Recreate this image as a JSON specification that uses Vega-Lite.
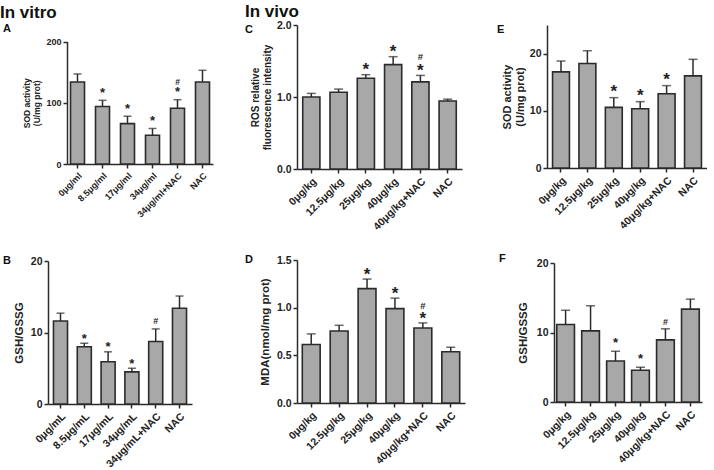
{
  "$schema": "https://vega.github.io/schema/vega-lite/v6.json",
  "padding": {"left": 0, "top": 3, "right": 0, "bottom": 0},
  "background": "white",
  "datasets": {
    "A": [
      {"g": "0μg/ml", "v": 134, "e": 147, "st": "", "h": ""},
      {"g": "8.5μg/ml", "v": 94, "e": 104, "st": "*", "h": ""},
      {"g": "17μg/ml", "v": 66, "e": 78, "st": "*", "h": ""},
      {"g": "34μg/ml", "v": 47, "e": 58, "st": "*", "h": ""},
      {"g": "34μg/ml+NAC", "v": 91, "e": 105, "st": "*", "h": "#"},
      {"g": "NAC", "v": 134, "e": 153, "st": "", "h": ""}
    ],
    "B": [
      {"g": "0μg/mL", "v": 11.6, "e": 12.7, "st": "", "h": ""},
      {"g": "8.5μg/mL", "v": 8.0, "e": 8.5, "st": "*", "h": ""},
      {"g": "17μg/mL", "v": 5.9, "e": 7.3, "st": "*", "h": ""},
      {"g": "34μg/mL", "v": 4.5, "e": 5.0, "st": "*", "h": ""},
      {"g": "34μg/mL+NAC", "v": 8.75, "e": 10.5, "st": "", "h": "#"},
      {"g": "NAC", "v": 13.4, "e": 15.1, "st": "", "h": ""}
    ],
    "C": [
      {"g": "0μg/kg", "v": 1.0, "e": 1.05, "st": "", "h": ""},
      {"g": "12.5μg/kg", "v": 1.065, "e": 1.11, "st": "", "h": ""},
      {"g": "25μg/kg", "v": 1.26, "e": 1.31, "st": "*", "h": ""},
      {"g": "40μg/kg", "v": 1.45, "e": 1.56, "st": "*", "h": ""},
      {"g": "40μg/kg+NAC", "v": 1.21, "e": 1.30, "st": "*", "h": "#"},
      {"g": "NAC", "v": 0.944, "e": 0.97, "st": "", "h": ""}
    ],
    "D": [
      {"g": "0μg/kg", "v": 0.613, "e": 0.725, "st": "", "h": ""},
      {"g": "12.5μg/kg", "v": 0.756, "e": 0.815, "st": "", "h": ""},
      {"g": "25μg/kg", "v": 1.20, "e": 1.30, "st": "*", "h": ""},
      {"g": "40μg/kg", "v": 0.99, "e": 1.10, "st": "*", "h": ""},
      {"g": "40μg/kg+NAC", "v": 0.787, "e": 0.84, "st": "*", "h": "#"},
      {"g": "NAC", "v": 0.537, "e": 0.585, "st": "", "h": ""}
    ],
    "E": [
      {"g": "0μg/kg", "v": 16.8, "e": 18.7, "st": "", "h": ""},
      {"g": "12.5μg/kg", "v": 18.26, "e": 20.5, "st": "", "h": ""},
      {"g": "25μg/kg", "v": 10.6, "e": 12.3, "st": "*", "h": ""},
      {"g": "40μg/kg", "v": 10.35, "e": 11.6, "st": "*", "h": ""},
      {"g": "40μg/kg+NAC", "v": 12.97, "e": 14.4, "st": "*", "h": ""},
      {"g": "NAC", "v": 16.1, "e": 19.0, "st": "", "h": ""}
    ],
    "F": [
      {"g": "0μg/kg", "v": 11.15, "e": 13.2, "st": "", "h": ""},
      {"g": "12.5μg/kg", "v": 10.24, "e": 13.85, "st": "", "h": ""},
      {"g": "25μg/kg", "v": 5.9, "e": 7.3, "st": "*", "h": ""},
      {"g": "40μg/kg", "v": 4.57, "e": 5.0, "st": "*", "h": ""},
      {"g": "40μg/kg+NAC", "v": 8.94, "e": 10.53, "st": "", "h": "#"},
      {"g": "NAC", "v": 13.37, "e": 14.8, "st": "", "h": ""}
    ]
  },
  "hconcat": [
    {
      "title": {"text": "In vitro", "anchor": "start", "frame": "bounds", "fontSize": 17, "fontWeight": "bold", "font": "Liberation Sans", "color": "#111", "baseline": "alphabetic", "offset": 0, "dx": -3, "dy": 11.5},
      "spacing": 36,
      "vconcat": [
        {
          "title": {"text": "A", "anchor": "start", "frame": "group", "dx": -45, "dy": 18, "offset": 0, "baseline": "alphabetic", "fontSize": 11, "fontWeight": "bold", "font": "Liberation Sans", "color": "#111"},
          "width": 165, "height": 139,
          "data": {"name": "A"},
          "encoding": {"x": {"field": "g", "type": "nominal", "sort": null, "scale": {"range": [19, 165], "paddingInner": 0.44, "paddingOuter": 0.14}, "axis": {"labelFontSize": 9}}},
          "layer": [
            {"mark": {"type": "bar", "fill": "#a8a8a8", "stroke": "#2b2b2b", "strokeWidth": 1.6},
             "encoding": {"y": {"field": "v", "type": "quantitative", "scale": {"domain": [0, 200], "nice": false, "range": [139, 16.5]}, "axis": {"offset": -19, "values": [0, 50, 100, 150, 200], "title": ["SOD activity", "(U/mg prot)"], "titleFontSize": 8.5, "labelFontSize": 9, "titlePadding": 4}}}},
            {"mark": {"type": "rule", "color": "#2b2b2b", "strokeWidth": 1.5}, "encoding": {"y": {"field": "v", "type": "quantitative"}, "y2": {"field": "e"}}},
            {"mark": {"type": "tick", "color": "#2b2b2b", "thickness": 1.5, "size": 8}, "encoding": {"y": {"field": "e", "type": "quantitative"}}},
            {"mark": {"type": "text", "baseline": "alphabetic", "dy": -3.5, "fontSize": 13, "fontWeight": "bold", "color": "#222"}, "encoding": {"y": {"field": "e", "type": "quantitative"}, "text": {"field": "st"}}},
            {"mark": {"type": "text", "baseline": "alphabetic", "dy": -15, "fontSize": 8.5, "fontWeight": "bold", "color": "#222"}, "encoding": {"y": {"field": "e", "type": "quantitative"}, "text": {"field": "h"}}}
          ]
        },
        {
          "title": {"text": "B", "anchor": "start", "frame": "group", "dx": -45, "dy": 19, "offset": 0, "baseline": "alphabetic", "fontSize": 11, "fontWeight": "bold", "font": "Liberation Sans", "color": "#111"},
          "width": 144, "height": 143,
          "data": {"name": "B"},
          "encoding": {"x": {"field": "g", "type": "nominal", "sort": null, "scale": {"paddingInner": 0.41, "paddingOuter": 0.23}, "axis": {"labelFontSize": 10.5}}},
          "layer": [
            {"mark": {"type": "bar", "fill": "#a8a8a8", "stroke": "#2b2b2b", "strokeWidth": 1.6},
             "encoding": {"y": {"field": "v", "type": "quantitative", "scale": {"domain": [0, 20], "nice": false}, "axis": {"values": [0, 5, 10, 15, 20], "title": "GSH/GSSG", "titleFontSize": 11.5, "labelFontSize": 10.5, "titlePadding": 6}}}},
            {"mark": {"type": "rule", "color": "#2b2b2b", "strokeWidth": 1.5}, "encoding": {"y": {"field": "v", "type": "quantitative"}, "y2": {"field": "e"}}},
            {"mark": {"type": "tick", "color": "#2b2b2b", "thickness": 1.5, "size": 8}, "encoding": {"y": {"field": "e", "type": "quantitative"}}},
            {"mark": {"type": "text", "baseline": "alphabetic", "dy": -0.5, "fontSize": 13, "fontWeight": "bold", "color": "#222"}, "encoding": {"y": {"field": "e", "type": "quantitative"}, "text": {"field": "st"}}},
            {"mark": {"type": "text", "baseline": "alphabetic", "dy": -4.5, "fontSize": 9, "fontWeight": "bold", "color": "#222"}, "encoding": {"y": {"field": "e", "type": "quantitative"}, "text": {"field": "h"}}}
          ]
        }
      ]
    },
    {
      "title": {"text": "In vivo", "anchor": "start", "frame": "bounds", "fontSize": 17, "fontWeight": "bold", "font": "Liberation Sans", "color": "#111", "baseline": "alphabetic", "offset": 0, "dy": 14},
      "spacing": 22,
      "vconcat": [
        {
          "title": {"text": "C", "anchor": "start", "frame": "group", "dx": -52, "dy": 24, "offset": 0, "baseline": "alphabetic", "fontSize": 11, "fontWeight": "bold", "font": "Liberation Sans", "color": "#111"},
          "width": 165, "height": 144,
          "data": {"name": "C"},
          "encoding": {"x": {"field": "g", "type": "nominal", "sort": null, "scale": {"paddingInner": 0.37, "paddingOuter": 0.21}, "axis": {"labelFontSize": 10.5}}},
          "layer": [
            {"mark": {"type": "bar", "fill": "#a8a8a8", "stroke": "#2b2b2b", "strokeWidth": 1.6},
             "encoding": {"y": {"field": "v", "type": "quantitative", "scale": {"domain": [0, 2], "nice": false}, "axis": {"values": [0, 0.5, 1, 1.5, 2], "format": ".1f", "title": ["ROS relative", "fluorescence intensity"], "titleFontSize": 10, "labelFontSize": 10.5, "titlePadding": 4}}}},
            {"mark": {"type": "rule", "color": "#2b2b2b", "strokeWidth": 1.5}, "encoding": {"y": {"field": "v", "type": "quantitative"}, "y2": {"field": "e"}}},
            {"mark": {"type": "tick", "color": "#2b2b2b", "thickness": 1.5, "size": 9}, "encoding": {"y": {"field": "e", "type": "quantitative"}}},
            {"mark": {"type": "text", "baseline": "alphabetic", "dy": 0.6, "fontSize": 17, "fontWeight": "bold", "color": "#222"}, "encoding": {"y": {"field": "e", "type": "quantitative"}, "text": {"field": "st"}}},
            {"mark": {"type": "text", "baseline": "alphabetic", "dy": -15, "fontSize": 9.5, "fontWeight": "bold", "color": "#222"}, "encoding": {"y": {"field": "e", "type": "quantitative"}, "text": {"field": "h"}}}
          ]
        },
        {
          "title": {"text": "D", "anchor": "start", "frame": "group", "dx": -52, "dy": 19, "offset": 0, "baseline": "alphabetic", "fontSize": 11, "fontWeight": "bold", "font": "Liberation Sans", "color": "#111"},
          "width": 168, "height": 143,
          "data": {"name": "D"},
          "encoding": {"x": {"field": "g", "type": "nominal", "sort": null, "scale": {"paddingInner": 0.36, "paddingOuter": 0.19}, "axis": {"labelFontSize": 10.5}}},
          "layer": [
            {"mark": {"type": "bar", "fill": "#a8a8a8", "stroke": "#2b2b2b", "strokeWidth": 1.6},
             "encoding": {"y": {"field": "v", "type": "quantitative", "scale": {"domain": [0, 1.5], "nice": false}, "axis": {"values": [0, 0.5, 1, 1.5], "format": ".1f", "title": "MDA(nmol/mg prot)", "titleFontSize": 11.5, "labelFontSize": 10.5, "titlePadding": 6}}}},
            {"mark": {"type": "rule", "color": "#2b2b2b", "strokeWidth": 1.5}, "encoding": {"y": {"field": "v", "type": "quantitative"}, "y2": {"field": "e"}}},
            {"mark": {"type": "tick", "color": "#2b2b2b", "thickness": 1.5, "size": 9}, "encoding": {"y": {"field": "e", "type": "quantitative"}}},
            {"mark": {"type": "text", "baseline": "alphabetic", "dy": 0.6, "fontSize": 17, "fontWeight": "bold", "color": "#222"}, "encoding": {"y": {"field": "e", "type": "quantitative"}, "text": {"field": "st"}}},
            {"mark": {"type": "text", "baseline": "alphabetic", "dy": -14, "fontSize": 9.5, "fontWeight": "bold", "color": "#222"}, "encoding": {"y": {"field": "e", "type": "quantitative"}, "text": {"field": "h"}}}
          ]
        }
      ]
    },
    {
      "spacing": 22,
      "vconcat": [
        {
          "title": {"text": "E", "anchor": "start", "frame": "group", "dx": -50, "dy": 19, "offset": 0, "baseline": "alphabetic", "fontSize": 11, "fontWeight": "bold", "font": "Liberation Sans", "color": "#111"},
          "width": 160, "height": 143,
          "data": {"name": "E"},
          "encoding": {"x": {"field": "g", "type": "nominal", "sort": null, "scale": {"paddingInner": 0.36, "paddingOuter": 0.21}, "axis": {"labelFontSize": 10.5}}},
          "layer": [
            {"mark": {"type": "bar", "fill": "#a8a8a8", "stroke": "#2b2b2b", "strokeWidth": 1.6},
             "encoding": {"y": {"field": "v", "type": "quantitative", "scale": {"domain": [0, 25], "nice": false}, "axis": {"values": [0, 5, 10, 15, 20, 25], "title": ["SOD activity", "(U/mg prot)"], "titleFontSize": 11, "labelFontSize": 10.5, "titlePadding": 4}}}},
            {"mark": {"type": "rule", "color": "#2b2b2b", "strokeWidth": 1.5}, "encoding": {"y": {"field": "v", "type": "quantitative"}, "y2": {"field": "e"}}},
            {"mark": {"type": "tick", "color": "#2b2b2b", "thickness": 1.5, "size": 9}, "encoding": {"y": {"field": "e", "type": "quantitative"}}},
            {"mark": {"type": "text", "baseline": "alphabetic", "dy": -0.4, "fontSize": 17, "fontWeight": "bold", "color": "#222"}, "encoding": {"y": {"field": "e", "type": "quantitative"}, "text": {"field": "st"}}}
          ]
        },
        {
          "title": {"text": "F", "anchor": "start", "frame": "group", "dx": -48, "dy": 15, "offset": 0, "baseline": "alphabetic", "fontSize": 11, "fontWeight": "bold", "font": "Liberation Sans", "color": "#111"},
          "width": 155, "height": 139,
          "data": {"name": "F"},
          "encoding": {"x": {"field": "g", "type": "nominal", "sort": null, "scale": {"range": [7, 155], "paddingInner": 0.29, "paddingOuter": 0.11}, "axis": {"labelFontSize": 10.5}}},
          "layer": [
            {"mark": {"type": "bar", "fill": "#a8a8a8", "stroke": "#2b2b2b", "strokeWidth": 1.6},
             "encoding": {"y": {"field": "v", "type": "quantitative", "scale": {"domain": [0, 20], "nice": false}, "axis": {"offset": -7, "values": [0, 5, 10, 15, 20], "title": "GSH/GSSG", "titleFontSize": 11.5, "labelFontSize": 10.5, "titlePadding": 8}}}},
            {"mark": {"type": "rule", "color": "#2b2b2b", "strokeWidth": 1.5}, "encoding": {"y": {"field": "v", "type": "quantitative"}, "y2": {"field": "e"}}},
            {"mark": {"type": "tick", "color": "#2b2b2b", "thickness": 1.5, "size": 9}, "encoding": {"y": {"field": "e", "type": "quantitative"}}},
            {"mark": {"type": "text", "baseline": "alphabetic", "dy": -4.4, "fontSize": 13, "fontWeight": "bold", "color": "#222"}, "encoding": {"y": {"field": "e", "type": "quantitative"}, "text": {"field": "st"}}},
            {"mark": {"type": "text", "baseline": "alphabetic", "dy": -4.3, "fontSize": 9, "fontWeight": "bold", "color": "#222"}, "encoding": {"y": {"field": "e", "type": "quantitative"}, "text": {"field": "h"}}}
          ]
        }
      ]
    }
  ],
  "spacing": 32,
  "config": {
    "view": {"stroke": null},
    "font": "Liberation Sans",
    "axis": {
      "domainColor": "#2b2b2b", "domainWidth": 1.5, "tickColor": "#2b2b2b", "tickWidth": 1.5, "tickSize": 4,
      "labelFont": "Liberation Sans", "labelFontWeight": "bold", "labelColor": "#222", "labelPadding": 2,
      "titleFont": "Liberation Sans", "titleFontWeight": "bold", "titleColor": "#222", "grid": false
    },
    "axisX": {"labelAngle": -45, "title": null, "labelPadding": 3}
  }
}
